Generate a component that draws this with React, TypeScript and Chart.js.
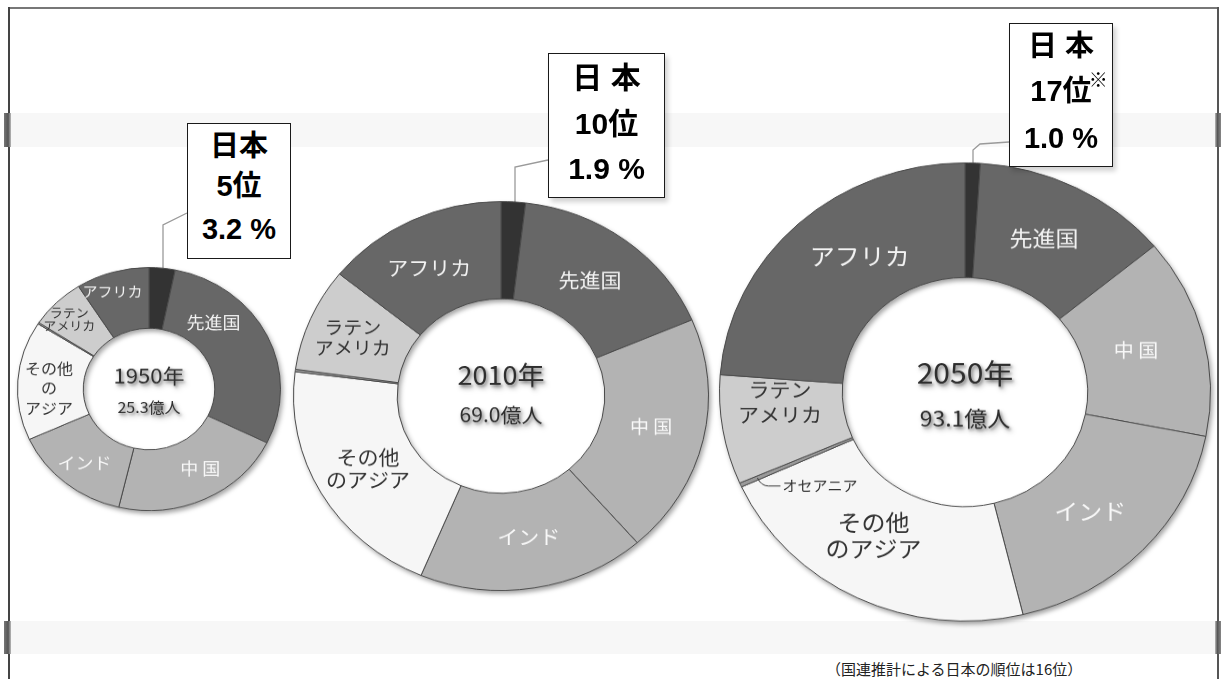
import React, { useEffect, useRef } from "react";
import { Chart, registerables } from "chart.js";

Chart.register(...registerables);

// ---------- data ----------
const regions = ["日本", "先進国", "中国", "インド", "その他のアジア", "オセアニア", "ラテンアメリカ", "アフリカ"];
const labels1950 = ["", "先進国", "中 国", "インド", "その他\nの\nアジア", "", "ラテン\nアメリカ", "アフリカ"];
const labelsLater = ["", "先進国", "中 国", "インド", "その他\nのアジア", "", "ラテン\nアメリカ", "アフリカ"];
const share1950 = [3.2, 29.1, 21.4, 14.5, 15.8, 0.2, 6.8, 9.0];
const share2010 = [1.9, 16.7, 20.0, 17.7, 20.7, 0.2, 8.6, 14.2];
const share2050 = [1.0, 13.0, 14.1, 18.1, 22.0, 0.3, 7.7, 23.8];
const years = ["1950年", "2010年", "2050年"];
const totals = ["25.3億人", "69.0億人", "93.1億人"];
const japanTitle = ["日本", "日 本", "日 本"];
const japanRank = ["5位", "10位", "17位"];
const japanShare = ["3.2 %", "1.9 %", "1.0 %"];
const footnote = "（国連推計による日本の順位は16位）";
const oceaniaNote = "オセアニア";

// ---------- styles ----------
const sliceColors = ["#333333", "#676767", "#b3b3b3", "#b3b3b3", "#f6f6f6", "#9a9a9a", "#cdcdcd", "#676767"];
const textColors = ["#ffffff", "#f2f2f2", "#f8f8f8", "#f8f8f8", "#333333", "#333333", "#333333", "#f2f2f2"];
const FAMILY = '"Noto Sans CJK JP", "Noto Sans", sans-serif';

type Spec = {
  values: number[];
  labels: string[];
  year: string;
  total: string;
  cx: number;
  cy: number;
  r: number;
  sy: number;
  fonts: number[];
  gaps: number[];
  place: number[][];
  yearFont: number;
  totalFont: number;
  yearDy: number;
  totalDy: number;
  note?: { index: number; text: string; font: number };
};

const specs: Spec[] = [
  {
    values: share1950, labels: labels1950, year: years[0], total: totals[0],
    cx: 149, cy: 389, r: 131, sy: 0.924,
    fonts: [0, 18, 18, 18, 16, 0, 13, 15],
    gaps: [0, 0, 0, 0, 21.5, 0, 14, 0],
    place: [[.5, .5], [.29, .47], [.43, .53], [.49, .56], [.44, .52], [.5, .5], [.42, .67], [.41, .7]],
    yearFont: 22, totalFont: 16, yearDy: -14, totalDy: 20,
  },
  {
    values: share2010, labels: labelsLater, year: years[1], total: totals[1],
    cx: 501, cy: 396, r: 207, sy: 0.937,
    fonts: [0, 21, 19, 21, 21, 0, 19, 21],
    gaps: [0, 0, 0, 0, 24.5, 0, 22.5, 0],
    place: [[.5, .5], [.48, .47], [.49, .48], [.48, .47], [.5, .48], [.5, .5], [.48, .55], [.46, .49]],
    yearFont: 27, totalFont: 21, yearDy: -22, totalDy: 20,
  },
  {
    values: share2050, labels: labelsLater, year: years[2], total: totals[2],
    cx: 965, cy: 391.5, r: 245, sy: 0.933,
    fonts: [0, 23, 20, 24, 24, 0, 21, 25],
    gaps: [0, 0, 0, 0, 28, 0, 27, 0],
    place: [[.5, .5], [.47, .49], [.49, .44], [.53, .46], [.56, .46], [.5, .85], [.73, .51], [.58, .46]],
    yearFont: 30, totalFont: 23, yearDy: -20, totalDy: 28,
    note: { index: 5, text: oceaniaNote, font: 15 },
  },
];

const ringText = {
  id: "ringText",
  afterDatasetsDraw(chart: any, _args: any, opts: any) {
    const ctx: CanvasRenderingContext2D = chart.ctx;
    const meta = chart.getDatasetMeta(0);
    ctx.save();
    ctx.textAlign = "center";
    ctx.textBaseline = "middle";
    const pointAt = (arc: any, fa: number, fr: number) => {
      const p = arc.getProps(["x", "y", "startAngle", "endAngle", "innerRadius", "outerRadius"], true);
      const a = p.startAngle + fa * (p.endAngle - p.startAngle);
      const rr = p.innerRadius + fr * (p.outerRadius - p.innerRadius);
      return { x: p.x + Math.cos(a) * rr, y: p.y + Math.sin(a) * rr };
    };
    meta.data.forEach((arc: any, i: number) => {
      const text: string = opts.labels[i];
      if (!text) return;
      const [fa, fr] = opts.place[i];
      const pt = pointAt(arc, fa, fr);
      ctx.fillStyle = opts.textColors[i];
      ctx.font = `${opts.fonts[i]}px ${FAMILY}`;
      const lines = text.split("\n");
      lines.forEach((ln, k) => {
        ctx.fillText(ln, pt.x, pt.y + (k - (lines.length - 1) / 2) * opts.gaps[i]);
      });
    });
    if (opts.note) {
      const n = opts.note;
      const arc = meta.data[n.index];
      const [fa, fr] = opts.place[n.index];
      const pt = pointAt(arc, fa, fr);
      ctx.strokeStyle = "#333";
      ctx.lineWidth = 1;
      ctx.beginPath();
      ctx.moveTo(pt.x, pt.y);
      ctx.quadraticCurveTo(pt.x + 4, pt.y + 8.6, pt.x + 11, pt.y + 8.6);
      ctx.lineTo(pt.x + 23, pt.y + 8.6);
      ctx.stroke();
      ctx.fillStyle = "#333";
      ctx.textAlign = "left";
      ctx.font = `${n.font}px ${FAMILY}`;
      ctx.fillText(n.text, pt.x + 25, pt.y + 8.6);
      ctx.textAlign = "center";
    }
    const c = meta.data[0];
    ctx.fillStyle = "#2e2e2e";
    ctx.shadowColor = "rgba(0,0,0,0.35)";
    ctx.shadowBlur = 3;
    ctx.shadowOffsetX = 1.5;
    ctx.shadowOffsetY = 2;
    ctx.font = `${opts.yearFont}px ${FAMILY}`;
    ctx.fillText(opts.year, c.x, c.y + opts.yearDy);
    ctx.font = `${opts.totalFont}px ${FAMILY}`;
    ctx.fillText(opts.total, c.x, c.y + opts.totalDy);
    ctx.restore();
  },
};

function Ring({ spec }: { spec: Spec }) {
  const ref = useRef<HTMLCanvasElement>(null);
  const size = spec.r * 2 + 2;
  useEffect(() => {
    if (!ref.current) return;
    const chart = new Chart(ref.current, {
      type: "doughnut",
      data: {
        labels: regions,
        datasets: [
          {
            data: spec.values,
            backgroundColor: sliceColors,
            borderColor: "#4a4a4a",
            borderWidth: 1,
            hoverOffset: 0,
            offset: 0,
          },
        ],
      },
      options: {
        responsive: false,
        animation: false,
        cutout: "50%",
        events: [],
        layout: { padding: 0 },
        plugins: {
          legend: { display: false },
          tooltip: { enabled: false },
          ringText: {
            labels: spec.labels,
            place: spec.place,
            fonts: spec.fonts,
            gaps: spec.gaps,
            textColors,
            year: spec.year,
            total: spec.total,
            yearFont: spec.yearFont,
            totalFont: spec.totalFont,
            yearDy: spec.yearDy,
            totalDy: spec.totalDy,
            note: spec.note,
          },
        } as any,
      },
      plugins: [ringText as any],
    });
    return () => chart.destroy();
  }, [spec]);
  return (
    <div
      style={{
        position: "absolute",
        left: Math.round(spec.cx - size / 2),
        top: Math.round(spec.cy - size / 2),
        width: size,
        height: size,
        transform: `scaleY(${spec.sy})`,
        transformOrigin: "50% 50%",
        filter: "drop-shadow(2px 3px 2.5px rgba(0,0,0,0.35))",
      }}
    >
      <canvas ref={ref} width={size} height={size} style={{ display: "block" }} />
    </div>
  );
}

type BoxSpec = { left: number; top: number; w: number; h: number; font: number; rows: number[]; mark?: boolean };
const boxes: BoxSpec[] = [
  { left: 187, top: 123, w: 104, h: 136, font: 29, rows: [22, 62, 105] },
  { left: 548, top: 53, w: 117, h: 145, font: 30, rows: [24, 70, 115] },
  { left: 1009, top: 23, w: 104, h: 144, font: 29, rows: [22, 67, 114], mark: true },
];

function Callout({ b, i }: { b: BoxSpec; i: number }) {
  const texts = [japanTitle[i], japanRank[i], japanShare[i]];
  return (
    <div
      style={{
        position: "absolute",
        left: b.left,
        top: b.top,
        width: b.w,
        height: b.h,
        boxSizing: "border-box",
        border: "1.5px solid #1a1a1a",
        background: "#fff",
        boxShadow: i > 0 ? "3px 4px 5px rgba(0,0,0,0.18)" : "none",
        fontFamily: '"Liberation Sans", Arial, "Noto Sans CJK JP", sans-serif',
        fontWeight: 700,
        color: "#000",
      }}
    >
      {texts.map((t, k) => (
        <div
          key={k}
          style={{
            position: "absolute",
            left: 0,
            width: "100%",
            top: b.rows[k] - 20,
            height: 40,
            lineHeight: "40px",
            fontSize: b.font,
            textAlign: "center",
            whiteSpace: "nowrap",
          }}
        >
          {t}
          {k === 1 && b.mark ? (
            <span style={{ position: "absolute", fontSize: 19, marginTop: -12, marginLeft: -3, fontFamily: FAMILY }}>※</span>
          ) : null}
        </div>
      ))}
    </div>
  );
}

export default function App() {
  return (
    <div
      style={{
        position: "absolute",
        left: 0,
        top: 0,
        width: 1221,
        height: 679,
        background: "#fff",
        overflow: "hidden",
      }}
    >
      {/* frame */}
      <div style={{ position: "absolute", left: 8, top: 7, width: 1211, height: 2, background: "#777" }} />
      <div style={{ position: "absolute", left: 8, top: 7, width: 2, height: 672, background: "#444" }} />
      <div style={{ position: "absolute", left: 1217, top: 7, width: 2, height: 672, background: "#555" }} />
      {/* light bands */}
      <div style={{ position: "absolute", left: 10, top: 113, width: 1207, height: 34, background: "#f7f7f7" }} />
      <div style={{ position: "absolute", left: 10, top: 621, width: 1207, height: 33, background: "#f7f7f7" }} />
      <div style={{ position: "absolute", left: 4, top: 113, width: 7, height: 34, background: "linear-gradient(to right, #777, #555 60%, #bbb)" }} />
      <div style={{ position: "absolute", left: 4, top: 621, width: 7, height: 33, background: "linear-gradient(to right, #777, #555 60%, #bbb)" }} />
      <div style={{ position: "absolute", left: 1215, top: 113, width: 6, height: 34, background: "linear-gradient(to right, #bbb, #555 40%, #888)" }} />
      <div style={{ position: "absolute", left: 1215, top: 621, width: 6, height: 33, background: "linear-gradient(to right, #bbb, #555 40%, #888)" }} />

      {/* leader lines */}
      <svg width={1221} height={679} style={{ position: "absolute", left: 0, top: 0 }}>
        <polyline points="187,213 163,225 163,270" fill="none" stroke="#9a9a9a" strokeWidth={1.3} />
        <polyline points="548,160 515,167 515,203" fill="none" stroke="#9a9a9a" strokeWidth={1.3} />
        <polyline points="1009,142 980,144 973,150 973,166" fill="none" stroke="#9a9a9a" strokeWidth={1.3} />
      </svg>

      {specs.map((s, i) => (
        <Ring key={i} spec={s} />
      ))}

      {boxes.map((b, i) => (
        <Callout key={i} b={b} i={i} />
      ))}

      <div
        style={{
          position: "absolute",
          left: 826,
          top: 659,
          fontSize: 15,
          lineHeight: "20px",
          fontFamily: FAMILY,
          color: "#222",
          whiteSpace: "nowrap",
        }}
      >
        {footnote}
      </div>
    </div>
  );
}
